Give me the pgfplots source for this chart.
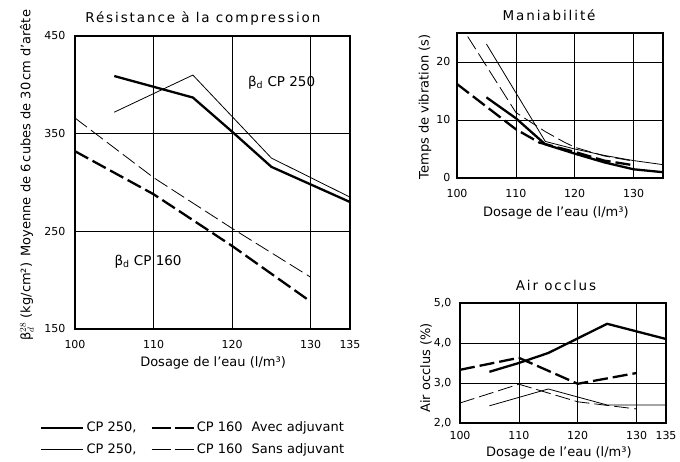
\documentclass[border=0pt]{standalone}
\usepackage{pgfplots}
\pgfplotsset{compat=1.18}
\usepackage{fontspec}
\setmainfont{DejaVu Sans}
\newfontfamily\ttl[LetterSpace=14]{DejaVu Sans}
\begin{document}
\begin{tikzpicture}
\useasboundingbox (0,0) rectangle (680pt,462pt);
\pgfplotsset{
  every axis/.append style={
    scale only axis,
    axis line style={line width=1.3pt},
    grid=major,
    major grid style={line width=0.7pt, black},
    major tick length=0pt,
    /pgf/number format/assume math mode=true,
    tick label style={font=\fontsize{11}{13}\selectfont},
    label style={font=\fontsize{13}{15}\selectfont},
    title style={font=\ttl\fontsize{13.5}{15}\selectfont, anchor=center, yshift=-6pt},
    xlabel style={anchor=center},
    ylabel style={anchor=center},
    clip=true,
  },
  thk/.style={line width=2.3pt, black},
  thn/.style={line width=0.8pt, black},
  thkd/.style={line width=2.3pt, black, dash pattern=on 15pt off 5pt},
  thnd/.style={line width=0.8pt, black, dash pattern=on 15pt off 5pt},
}
% ---------------- main chart
\begin{axis}[at={(75pt,133pt)}, anchor=south west, width=275pt, height=293pt,
  xmin=100, xmax=135, ymin=150, ymax=450,
  xtick={100,110,120,130,135}, ytick={150,250,350,450},
  xticklabel style={yshift=-8pt},
  yticklabel style={xshift=-6pt},
  title={Résistance à la compression},
  title style={at={(axis description cs:0.465,1.061)}},
  xlabel={Dosage de l'eau (l/m³)},
  xlabel style={at={(axis description cs:0.502,-0.116)}},
  ylabel={β$^{28}_{d}$ (kg/cm²)\enspace Moyenne de 6\,cubes de 30\,cm d'arête},
  ylabel style={at={(axis description cs:-0.175,0.525)}},
  legend columns=2,
  legend style={draw=none, fill=none, inner sep=0pt,
    at={(axis description cs:-0.127,-0.31)}, anchor=north west,
    font=\fontsize{13}{15}\selectfont,
    /tikz/every even column/.append style={column sep=12pt},
    row sep=6pt},
  legend image code/.code={\draw[#1] (0pt,0pt) -- (42pt,0pt);},
  legend cell align=left,
]
\addplot[thk] coordinates {(105,409) (115,387) (120,352) (125,316) (135,280)};
\addlegendentry{CP 250,}
\addplot[thkd, legend image post style={dash pattern=on 19pt off 4pt}] coordinates {(100,332) (110,288) (120,235) (130,178)};
\addlegendentry{CP 160\hspace{9pt}Avec adjuvant}
\addplot[thn] coordinates {(105,372) (115,410) (125,325) (135,285)};
\addlegendentry{CP 250,}
\addplot[thnd, legend image post style={dash pattern=on 19pt off 4pt}] coordinates {(100,366) (110,305) (120,253) (130,203)};
\addlegendentry{CP 160\hspace{9pt}Sans adjuvant}
\node[font=\fontsize{13.5}{15}\selectfont] at (axis cs:126.3,402) {β\textsubscript{d} CP 250};
\node[font=\fontsize{13.5}{15}\selectfont] at (axis cs:109.3,219) {β\textsubscript{d} CP 160};
\end{axis}
% ---------------- Maniabilite
\begin{axis}[at={(457pt,284pt)}, anchor=south west, width=206pt, height=145pt,
  xmin=100, xmax=135, ymin=0, ymax=25,
  xtick={100,110,120,130}, ytick={0,10,20},
  xticklabel style={yshift=-8pt},
  yticklabel style={xshift=-3pt},
  title={Maniabilité},
  title style={at={(axis description cs:0.447,1.124)}},
  xlabel={Dosage de l'eau (l/m³)},
  xlabel style={at={(axis description cs:0.48,-0.241)}},
  ylabel={Temps de vibration (s)},
  ylabel style={at={(axis description cs:-0.155,0.49)}},
]
\addplot[thn] coordinates {(105,23.1) (115,6.3) (120,5.0) (125,3.9) (130,3.0) (135,2.3)};
\addplot[thk] coordinates {(105,13.9) (110,10.3) (115,5.8) (120,4.2) (125,2.7) (130,1.5) (135,1.0)};
\addplot[thnd] coordinates {(100,27.3) (110,11.3) (115,8.0) (118,6.3) (120,5.3) (125,3.8) (130,2.9)};
\addplot[thkd] coordinates {(100,16.2) (110,8.4) (114,6.1) (120,4.5) (125,3.0) (130,2.2)};
\end{axis}
% ---------------- Air occlus
\begin{axis}[at={(460pt,39pt)}, anchor=south west, width=206pt, height=120pt,
  xmin=100, xmax=135, ymin=2, ymax=5,
  xtick={100,110,120,130,135}, ytick={2,3,4,5},
  yticklabels={{2,0},{3,0},{4,0},{5,0}},
  xticklabel style={yshift=-5pt},
  yticklabel style={xshift=-5pt},
  title={Air occlus},
  title style={at={(axis description cs:0.466,1.15)}},
  xlabel={Dosage de l'eau (l/m³)},
  xlabel style={at={(axis description cs:0.48,-0.25)}},
  ylabel={Air occlus (\%)},
  ylabel style={at={(axis description cs:-0.165,0.46)}},
]
\addplot[thk] coordinates {(105,3.28) (110,3.5) (115,3.75) (125,4.48) (135,4.1)};
\addplot[thkd] coordinates {(100,3.33) (110,3.63) (120,2.98) (130,3.25)};
\addplot[thnd] coordinates {(100,2.5) (110,2.97) (120,2.53) (130,2.35)};
\addplot[thn] coordinates {(105,2.43) (115,2.85) (125,2.45) (135,2.45)};
\end{axis}
\end{tikzpicture}
\end{document}
